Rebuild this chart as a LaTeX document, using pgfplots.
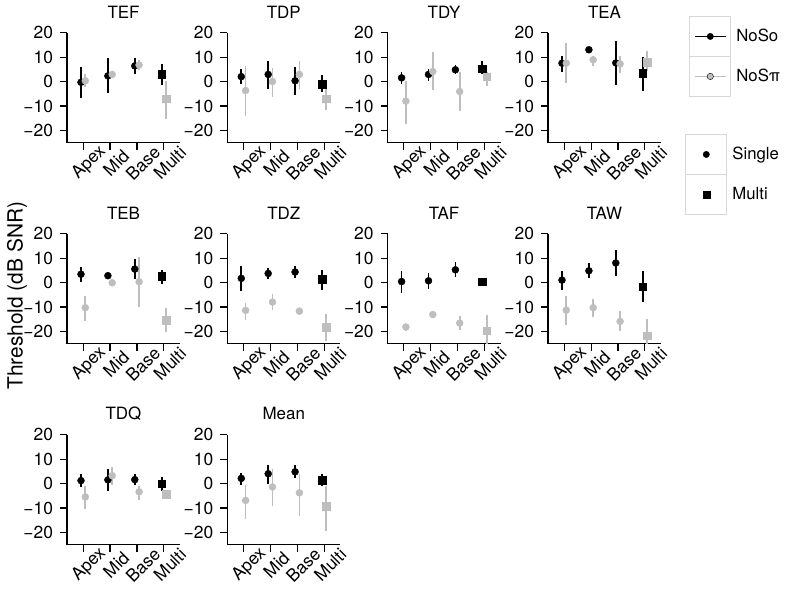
\documentclass[border=0pt]{standalone}
\usepackage{fontspec}
\setmainfont{TeX Gyre Heros}
\usepackage{pgfplots}
\pgfplotsset{compat=1.18}
\usepackage{pgfplotstable}

\definecolor{nospi}{RGB}{190,190,190}
\definecolor{keybox}{RGB}{215,215,215}
\newcommand{\tickfont}{\fontsize{17.5}{19}\selectfont}

% columns: category, NoSo mean/low/high, NoSpi mean/low/high
\pgfplotstableread{
x b blo bhi g glo ghi
1 -0.3 -6.8 6.0 0.3 -2.3 2.9
2 2.3 -4.8 9.7 2.9 1.8 3.8
3 6.4 3.1 9.7 6.8 4.8 8.9
4 2.9 -1.4 7.2 -7.1 -15.3 0.4
}\tabTEF
\pgfplotstableread{
x b blo bhi g glo ghi
1 2.0 -1.0 5.2 -3.7 -14.2 6.5
2 2.9 -3.0 8.2 0.0 -6.4 5.5
3 0.3 -5.7 5.9 2.9 -3.0 8.6
4 -1.0 -4.4 2.5 -7.1 -11.5 -3.0
}\tabTDP
\pgfplotstableread{
x b blo bhi g glo ghi
1 1.5 -1.0 4.1 -8.0 -17.3 0.4
2 2.9 0.4 5.2 4.1 -3.4 12.0
3 4.8 2.9 6.8 -4.1 -11.9 3.8
4 5.3 3.1 8.2 2.0 -1.9 3.8
}\tabTDY
\pgfplotstableread{
x b blo bhi g glo ghi
1 7.5 3.8 10.6 7.5 -0.7 15.7
2 13.0 12.0 14.0 8.9 6.5 10.6
3 7.6 -1.6 16.5 7.2 3.4 10.6
4 3.4 -3.7 10.2 7.8 4.5 12.4
}\tabTEA
\pgfplotstableread{
x b blo bhi g glo ghi
1 3.4 0.4 6.2 -10.3 -15.6 -5.5
2 2.8 1.4 4.1 -0.1 -0.9 0.7
3 5.5 1.4 9.7 0.3 -10.0 10.3
4 2.5 -0.4 5.2 -15.4 -20.4 -10.3
}\tabTEB
\pgfplotstableread{
x b blo bhi g glo ghi
1 1.7 -3.4 6.9 -11.4 -15.2 -8.3
2 3.7 1.4 5.8 -8.0 -11.3 -4.8
3 4.3 1.8 6.9 -11.7 -13.1 -10.3
4 1.4 -3.0 5.2 -18.2 -23.9 -12.7
}\tabTDZ
\pgfplotstableread{
x b blo bhi g glo ghi
1 0.4 -4.1 4.8 -18.2 -20.0 -17.0
2 0.7 -2.8 4.1 -13.1 -13.8 -12.4
3 5.2 2.3 8.3 -16.6 -19.6 -13.8
4 0.4 -1.4 1.8 -19.7 -26.0 -13.1
}\tabTAF
\pgfplotstableread{
x b blo bhi g glo ghi
1 1.0 -3.0 4.8 -11.3 -17.2 -5.5
2 4.8 1.8 8.0 -10.3 -14.2 -6.6
3 8.0 2.8 13.4 -15.9 -20.0 -11.7
4 -1.7 -8.0 4.8 -21.7 -26.0 -14.9
}\tabTAW
\pgfplotstableread{
x b blo bhi g glo ghi
1 1.2 -1.5 4.0 -5.5 -10.4 -1.1
2 1.5 -2.9 6.0 3.2 -0.7 6.7
3 1.6 -0.4 3.7 -3.4 -6.9 -1.1
4 -0.1 -2.9 2.7 -4.3 -5.6 -3.2
}\tabTDQ
\pgfplotstableread{
x b blo bhi g glo ghi
1 2.1 -0.4 4.4 -6.9 -14.6 -0.4
2 4.0 0.0 7.6 -1.4 -9.1 6.0
3 4.8 2.1 7.6 -3.8 -13.2 3.7
4 1.4 -1.1 3.7 -9.3 -19.6 -1.1
}\tabMean

\pgfplotsset{
  panel/.style={
    scale only axis, width=113bp, height=110bp, anchor=south west,
    xmin=0.4, xmax=4.6, ymin=-25, ymax=20,
    axis x line*=bottom, axis y line*=left,
    axis line style={-, line width=1.1bp},
    tick align=outside, major tick length=7bp,
    tick style={black, line width=1.1bp},
    xtick={1,2,3,4}, xticklabels={Apex,Mid,Base,Multi},
    ytick={-20,-10,0,10,20}, yticklabels={−20,−10,0,10,20},
    tick label style={font=\tickfont},
    yticklabel style={font=\tickfont, xshift=-1bp},
    % shifts act in the rotated frame of the label
    xticklabel style={font=\tickfont, xshift=6bp, yshift=-13.2bp, rotate=45, anchor=center},
    title style={font=\fontsize{17}{19}\selectfont, yshift=2.5bp},
  },
  bar/.style={
    error bars/y dir=both, error bars/y explicit, error bars/error mark=none,
    error bars/error bar style={line width=1.8bp, #1},
  },
  blk/.style={only marks, black, mark options={solid, fill=black}, bar=black},
  gry/.style={only marks, nospi, mark options={solid, fill=nospi}, bar=nospi},
}

\newcommand{\panel}[4]{%
  \begin{axis}[panel, at={(#1bp,#2bp)}, title={#3}]
    \addplot[blk, mark=*, mark size=3.5bp, skip coords between index={3}{4}]
      table[x expr=\thisrow{x}-0.08, y=b,
            y error plus expr=\thisrow{bhi}-\thisrow{b},
            y error minus expr=\thisrow{b}-\thisrow{blo}] {#4};
    \addplot[blk, mark=square*, mark size=3.8bp, skip coords between index={0}{3}]
      table[x expr=\thisrow{x}-0.08, y=b,
            y error plus expr=\thisrow{bhi}-\thisrow{b},
            y error minus expr=\thisrow{b}-\thisrow{blo}] {#4};
    \addplot[gry, mark=*, mark size=3.5bp, skip coords between index={3}{4}]
      table[x expr=\thisrow{x}+0.08, y=g,
            y error plus expr=\thisrow{ghi}-\thisrow{g},
            y error minus expr=\thisrow{g}-\thisrow{glo}] {#4};
    \addplot[gry, mark=square*, mark size=3.8bp, skip coords between index={0}{3}]
      table[x expr=\thisrow{x}+0.08, y=g,
            y error plus expr=\thisrow{ghi}-\thisrow{g},
            y error minus expr=\thisrow{g}-\thisrow{glo}] {#4};
  \end{axis}}

% key cell: a light grey box 41 x 40 bp round the key symbol
\newcommand{\keybox}{%
  \draw[draw=keybox, line width=1.2bp] (0bp,-20bp) rectangle (41bp,20bp);}

\pgfplotsset{
  keylegend/.style={
    hide axis, scale only axis, width=41bp, height=80bp, anchor=south west,
    xmin=0, xmax=1, ymin=0, ymax=1,
    legend cell align=left,
    legend style={at={(0,1)}, anchor=north west, draw=none, fill=none,
      inner sep=0pt, row sep=-1.2bp, column sep=5bp,
      nodes={inner sep=0pt, font=\fontsize{16.8}{18}\selectfont},
      cells={anchor=west}},
  },
}

\begin{document}
\tickfont
\begin{tikzpicture}

\panel{67}{467}{TEF}{\tabTEF}
\panel{227.3}{467}{TDP}{\tabTDP}
\panel{387.6}{467}{TDY}{\tabTDY}
\panel{548}{467}{TEA}{\tabTEA}
\panel{67}{266}{TEB}{\tabTEB}
\panel{227.3}{266}{TDZ}{\tabTDZ}
\panel{387.6}{266}{TAF}{\tabTAF}
\panel{548}{266}{TAW}{\tabTAW}
\panel{67}{65}{TDQ}{\tabTDQ}
\panel{227.3}{65}{Mean}{\tabMean}

\begin{axis}[keylegend, at={(689bp,514bp)}]
  \addlegendimage{legend image code/.code={\keybox
    \draw[draw=black, line width=1.5bp] (5bp,0bp) -- (36bp,0bp);
    \fill[fill=black] (20.5bp,0bp) circle (3.2bp);}}
  \addlegendentry{NoSo}
  \addlegendimage{legend image code/.code={\keybox
    \draw[draw=nospi, line width=1.5bp] (5bp,0bp) -- (36bp,0bp);
    \fill[fill=nospi] (20.5bp,0bp) circle (3.2bp);}}
  \addlegendentry{NoSπ}
\end{axis}

\begin{axis}[keylegend, at={(685bp,396bp)}]
  \addlegendimage{legend image code/.code={\keybox
    \fill[fill=black] (20.5bp,0bp) circle (3.2bp);}}
  \addlegendentry{Single}
  \addlegendimage{legend image code/.code={\keybox
    \fill[fill=black] (17bp,-3.5bp) rectangle (24bp,3.5bp);}}
  \addlegendentry{Multi}
\end{axis}

\node[rotate=90, font=\fontsize{21}{23}\selectfont] at (17bp,314bp) {Threshold (dB SNR)};
\path (0,0) rectangle (798bp,609bp);
\end{tikzpicture}
\end{document}
